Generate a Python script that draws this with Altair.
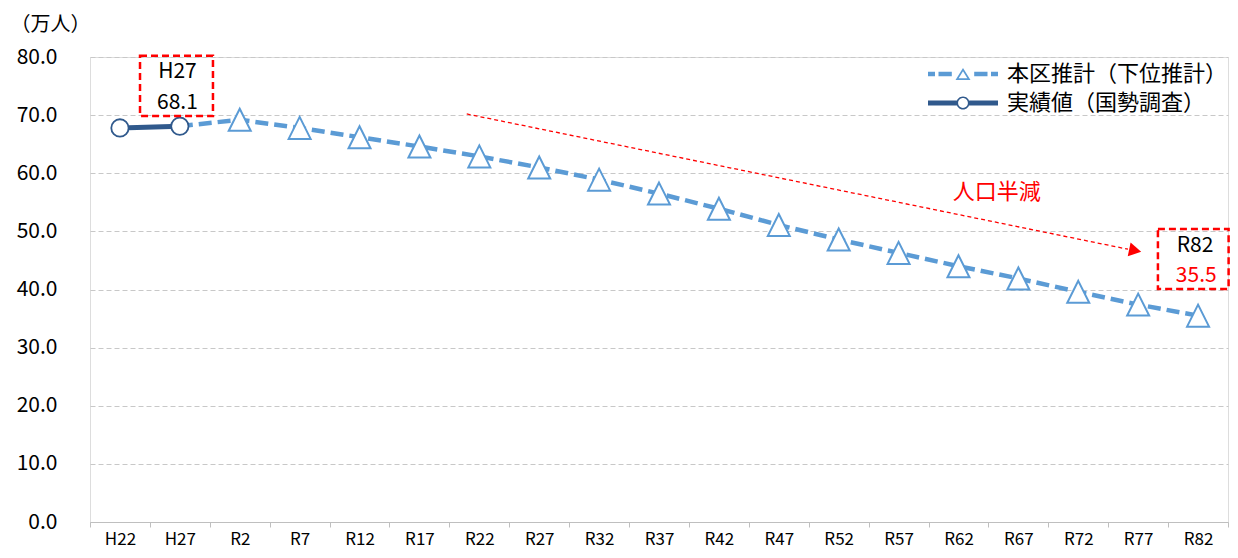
import altair as alt
import pandas as pd

# ---------------- data ----------------
categories = ["H22", "H27", "R2", "R7", "R12", "R17", "R22", "R27", "R32", "R37",
              "R42", "R47", "R52", "R57", "R62", "R67", "R72", "R77", "R82"]
actual_cats = ["H22", "H27"]
actual_vals = [67.8, 68.1]
proj_cats = categories[1:]
proj_vals = [68.1, 69.2, 67.8, 66.2, 64.6, 62.9, 61.0, 58.9, 56.5, 53.9,
             51.1, 48.6, 46.3, 44.0, 41.9, 39.6, 37.4, 35.5]
series_names = ["本区推計（下位推計）", "実績値（国勢調査）"]
series_colors = ["#5B9BD5", "#30598C"]
y_ticks = [0, 10, 20, 30, 40, 50, 60, 70, 80]

# annotation boxes (x in category-index units, y in 万人)
box_x = [0.335, 17.33]
box_x2 = [1.553, 18.51]
box_y = [80.2, 50.4]
box_y2 = [69.85, 40.1]
label_text = [actual_cats[1], f"{actual_vals[1]:.1f}", proj_cats[-1], f"{proj_vals[-1]:.1f}"]
label_x = [0.96, 0.96, 17.95, 17.97]
label_y = [77.4, 72.1, 47.5, 42.4]
label_color = ["black", "black", "black", "#FF0000"]
arrow_x = [5.79, 16.83]
arrow_y = [70.2, 46.93]
head_x = [16.95]
head_y = [46.69]
note_text = ["人口半減"]
note_x = [14.64]
note_y = [56.8]

FONT = "Noto Sans CJK JP"

df_proj = pd.DataFrame({"cat": proj_cats, "v": proj_vals})
df_tri = df_proj.iloc[1:]
df_act = pd.DataFrame({"cat": actual_cats, "v": actual_vals})
df_box = pd.DataFrame({"x": box_x, "x2": box_x2, "y": box_y, "y2": box_y2})
df_lab = pd.DataFrame({"x": label_x, "y": label_y, "t": label_text, "c": label_color})
df_arrow = pd.DataFrame({"x": arrow_x, "y": arrow_y})
df_head = pd.DataFrame({"x": head_x, "y": head_y})
df_note = pd.DataFrame({"x": note_x, "y": note_y, "t": note_text})

# ---------------- encodings ----------------
yaxis = alt.Axis(values=y_ticks, format=".1f", grid=True, gridDash=[5, 3],
                 gridColor="#C8C8C8", gridWidth=1, domain=False, ticks=False,
                 labelFontSize=21, labelColor="black", labelPadding=33, labelFont=FONT,
                 title="（万人）", titleAngle=0, titleAlign="left", titleBaseline="middle",
                 titleX=-80, titleY=-33, titleFontSize=20, titleFontWeight="normal",
                 titleColor="black", titleFont=FONT)
yscale = alt.Scale(domain=[0, 80], nice=False, zero=True)


def Y(field):
    return alt.Y(field, type="quantitative", scale=yscale, axis=yaxis)


xaxis = alt.Axis(tickBand="extent", ticks=True, tickSize=5, tickColor="#BFBFBF",
                 domain=True, domainColor="#BFBFBF", domainWidth=1, labels=True,
                 labelFontSize=17, labelPadding=4, orient="bottom",
                 labelColor="black", labelFont=FONT, labelAngle=0, title=None, grid=False)
xscale = alt.Scale(type="band", domain=categories, paddingInner=0, paddingOuter=0)


def X(field):
    return alt.X(field, type="nominal", scale=xscale, sort=categories, bandPosition=0.5,
                 axis=xaxis)


qx = alt.Scale(domain=[-0.5, 18.5], nice=False, zero=False)

# ---------------- data layers ----------------
proj_line = alt.Chart(df_proj).mark_line(
    color=series_colors[0], strokeWidth=4.5, strokeDash=[13, 6]
).encode(x=X("cat"), y=Y("v"))

act_line = alt.Chart(df_act).mark_line(
    color=series_colors[1], strokeWidth=5
).encode(x=X("cat"), y=Y("v"))

tri = alt.Chart(df_tri).mark_point(
    shape="M0,-1L1,1L-1,1Z", size=484, filled=True, fill="white",
    stroke=series_colors[0], strokeWidth=2, opacity=1
).encode(x=X("cat"), y=Y("v"))

circ = alt.Chart(df_act).mark_point(
    shape="circle", size=300, filled=True, fill="white",
    stroke=series_colors[1], strokeWidth=1.8, opacity=1
).encode(x=X("cat"), y=Y("v"))

data_layer = alt.layer(proj_line, act_line, tri, circ)

# ---------------- annotations ----------------
boxes = alt.Chart(df_box).mark_rect(
    fill="white", fillOpacity=0, stroke="#FF0000", strokeWidth=2.5, strokeDash=[7, 4]
).encode(x=alt.X("x:Q", scale=qx, axis=None), x2="x2", y=Y("y"), y2="y2")

labels = alt.Chart(df_lab).mark_text(
    font=FONT, fontSize=21, align="center", baseline="middle"
).encode(x=alt.X("x:Q", scale=qx, axis=None), y=Y("y"),
         text="t:N", color=alt.Color("c:N", scale=None))

arrow = alt.Chart(df_arrow).mark_line(
    color="#FF0000", strokeWidth=1.3, strokeDash=[4, 3]
).encode(x=alt.X("x:Q", scale=qx, axis=None), y=Y("y"))

head = alt.Chart(df_head).mark_point(
    shape="triangle-right", size=200, filled=True, fill="#FF0000", opacity=1,
    strokeWidth=0, angle=11.6
).encode(x=alt.X("x:Q", scale=qx, axis=None), y=Y("y"))

note = alt.Chart(df_note).mark_text(
    font=FONT, fontSize=22, color="#FF0000", align="center", baseline="middle"
).encode(x=alt.X("x:Q", scale=qx, axis=None), y=Y("y"), text="t:N")

annot_layer = alt.layer(arrow, head, boxes, labels, note)

# ---------------- legend (one legend per series) ----------------
t = 0.063
leg_proj_path = (
    f"M-1,-{t}V{t}H-0.8V-{t}Z"
    f"M-0.7,-{t}V{t}H-0.32V-{t}Z"
    f"M0.32,-{t}V{t}H0.7V-{t}Z"
    f"M0.8,-{t}V{t}H1V-{t}Z"
    "M0,-0.171L0.214,0.171L-0.214,0.171Z"
    "M0,-0.077L-0.124,0.121L0.124,0.121Z"
)
u = 0.071
leg_act_path = (
    f"M-1,-{u}V{u}H-0.175V-{u}Z"
    f"M0.175,-{u}V{u}H1V-{u}Z"
    "M-0.186,0A0.186,0.186 0 1,0 0.186,0A0.186,0.186 0 1,0 -0.186,0Z"
    "M-0.14,0A0.14,0.14 0 1,1 0.14,0A0.14,0.14 0 1,1 -0.14,0Z"
)
leg_paths = [leg_proj_path, leg_act_path]
leg_y = [-18, 11]


def legend_layer(i):
    name = series_names[i]
    lg = alt.Legend(orient="none", legendX=838, legendY=leg_y[i], title=None,
                    symbolSize=4900, symbolStrokeWidth=0, symbolOpacity=1,
                    labelFontSize=22, labelFont=FONT, labelColor="black",
                    labelOffset=9, labelLimit=400, padding=0)
    field = f"s{i}"
    return alt.Chart(pd.DataFrame({field: [name]})).mark_point(
        filled=True, opacity=1
    ).encode(
        shape=alt.Shape(f"{field}:N", scale=alt.Scale(domain=[name], range=[leg_paths[i]]),
                        legend=lg),
        fill=alt.Fill(f"{field}:N", scale=alt.Scale(domain=[name], range=[series_colors[i]]),
                      legend=lg),
    ).transform_filter("false")


chart = alt.layer(data_layer, annot_layer, legend_layer(0), legend_layer(1)).resolve_scale(
    x="independent", shape="independent", fill="independent"
).properties(
    width=1138, height=465,
    autosize=alt.AutoSizeParams(type="none"),
    padding={"left": 82, "top": 49, "right": 2, "bottom": 26},
).configure_view(stroke=None).configure(font=FONT)

chart.save("out.html", embed_options={"renderer": "svg", "actions": False})
